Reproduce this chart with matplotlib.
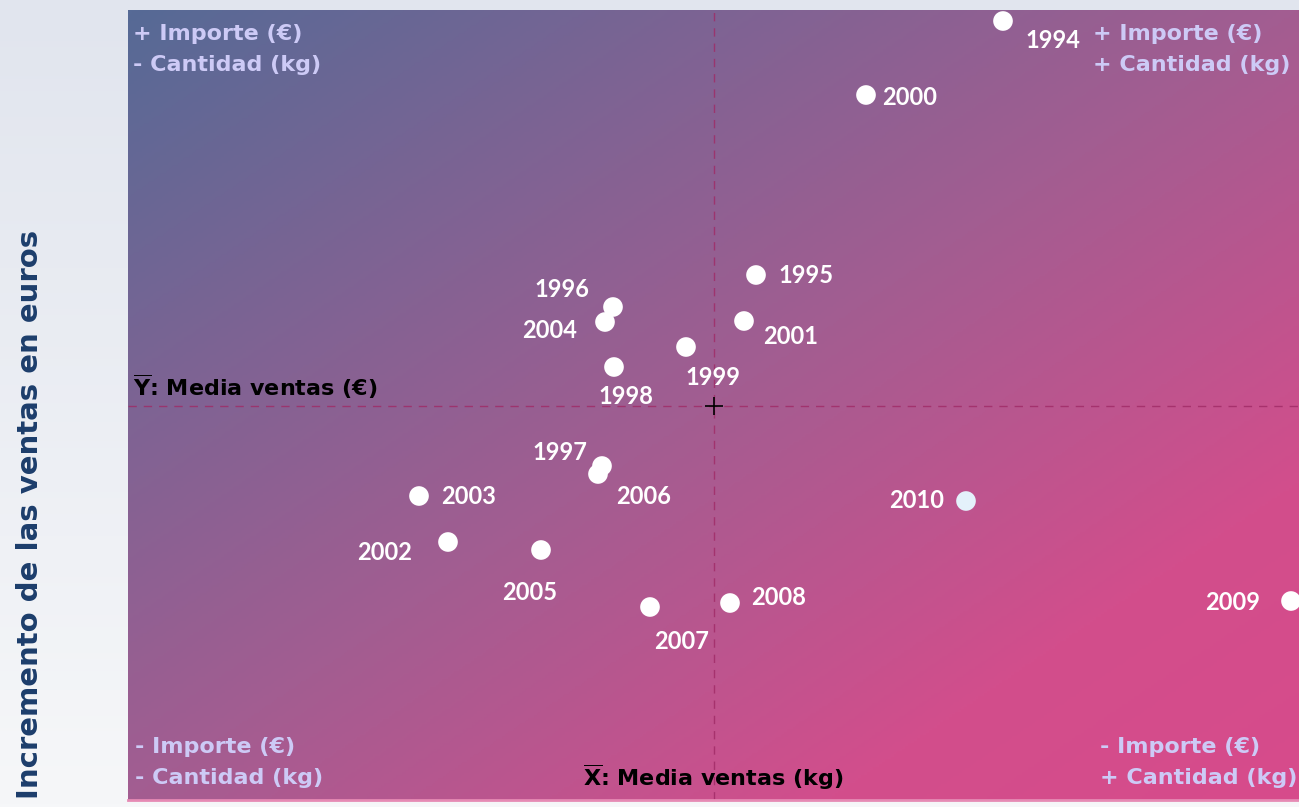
import numpy as np
import matplotlib.pyplot as plt
from matplotlib.colors import LinearSegmentedColormap

plt.rcParams['font.family'] = ['DejaVu Sans']
plt.rcParams['font.weight'] = 'bold'
plt.rcParams['mathtext.fontset'] = 'dejavusans'

# Incremento anual: cantidad (kg) en X, importe (€) en Y
years = ["1994", "1995", "1996", "1997", "1998", "1999", "2000", "2001", "2002",
         "2003", "2004", "2005", "2006", "2007", "2008", "2009", "2010"]
kg = [28.9, 4.2, -10.1, -11.2, -10.0, -2.8, 15.2, 3.0, -26.6,
      -29.5, -10.9, -17.3, -11.6, -6.4, 1.6, 57.7, 25.2]
eur = [38.6, 13.2, 10.0, -5.9, 4.0, 6.0, 31.2, 8.6, -13.5,
       -8.9, 8.5, -14.3, -6.7, -20.0, -19.6, -19.4, -9.4]

quadrants = ["+ Importe (€)\n- Cantidad (kg)", "+ Importe (€)\n+ Cantidad (kg)",
             "- Importe (€)\n- Cantidad (kg)", "- Importe (€)\n+ Cantidad (kg)"]

# desplazamiento de cada etiqueta (px) y alineación
label_pos = {
    "1994": (22, -19, "left"), "2000": (16, -2, "left"), "1995": (22, 0, "left"),
    "2001": (19, -15, "left"), "1996": (-24, 18, "right"), "2004": (-28, -8, "right"),
    "1998": (12, -29, "center"), "1999": (27, -30, "center"), "1997": (-15, 14, "right"),
    "2006": (18, -22, "left"), "2003": (22, 0, "left"), "2002": (-36, -10, "right"),
    "2005": (-11, -42, "center"), "2007": (32, -34, "center"), "2008": (21, 6, "left"),
    "2010": (-22, 1, "right"), "2009": (-31, -1, "right"),
}

xlim = (-58.6, 58.5)
ylim = (-39.3, 39.7)
mean_x = np.mean(kg)
mean_y = np.mean(eur)

fig = plt.figure(figsize=(12.99, 8.07), dpi=100)

# fondo de la figura
bg = fig.add_axes([0, 0, 1, 1], zorder=-1)
bg_cmap = LinearSegmentedColormap.from_list("bg", ["#f6f7f9", "#e1e5ee"])
bg.imshow(np.linspace(0, 1, 256).reshape(-1, 1)[::-1], cmap=bg_cmap, aspect="auto",
          extent=(0, 1, 0, 1))
bg.axis("off")

ax = fig.add_axes([128 / 1299, 7 / 807, 1171 / 1299, 790 / 807])

# degradado diagonal azul -> rosa
grad_cmap = LinearSegmentedColormap.from_list(
    "grad", [(0, "#566a96"), (0.5, "#a35d91"), (0.8, "#d24e8c"), (1, "#d74b8b")])
gx, gy = np.meshgrid(np.linspace(0, 1, 400), np.linspace(0, 1, 300))
ax.imshow((gx + gy) / 2, cmap=grad_cmap, aspect="auto", origin="upper",
          extent=(xlim[0], xlim[1], ylim[0], ylim[1]), zorder=0)

ax.axvline(mean_x, color="#a02a66", lw=1, ls=(0, (6, 5)), alpha=0.8, zorder=1)
ax.axhline(mean_y, color="#a02a66", lw=1, ls=(0, (6, 5)), alpha=0.8, zorder=1)
ax.plot(mean_x, mean_y, marker="+", color="black", ms=13, mew=1.2, zorder=3)

colors = ["#e4f1fb" if y == "2010" else "white" for y in years]
ax.scatter(kg, eur, s=200, c=colors, edgecolors="none", zorder=4)

for y, xv, yv in zip(years, kg, eur):
    dx, dy, ha = label_pos[y]
    ax.annotate(y, (xv, yv), xytext=(dx, dy), textcoords="offset pixels",
                ha=ha, va="center", color="white", fontsize=17, fontweight="bold",
                family=["Lato", "DejaVu Sans"], zorder=5)

qcol = "#cdcaf6"
qkw = dict(transform=ax.transAxes, color=qcol, fontsize=16, fontweight="bold",
           linespacing=1.7, multialignment="left")
ax.text(5 / 1171, 1 - 14 / 790, quadrants[0], ha="left", va="top", **qkw)
ax.text(1 - 9 / 1171, 1 - 14 / 790, quadrants[1], ha="right", va="top", **qkw)
ax.text(7 / 1171, 12 / 790, quadrants[2], ha="left", va="bottom", **qkw)
ax.text(1 - 2 / 1171, 12 / 790, quadrants[3], ha="right", va="bottom", **qkw)

ax.annotate(r"$\mathbf{\overline{Y}}$: Media ventas (€)", (xlim[0], mean_y),
            xytext=(5, 19), textcoords="offset pixels", ha="left", va="center",
            color="black", fontsize=16, fontweight="bold")
ax.annotate(r"$\mathbf{\overline{X}}$: Media ventas (kg)", (mean_x, ylim[0]),
            xytext=(0, 23), textcoords="offset pixels", ha="center", va="center",
            color="black", fontsize=16, fontweight="bold")

ax.set_xlim(xlim)
ax.set_ylim(ylim)
ax.set_xticks([])
ax.set_yticks([])
for side in ["top", "left", "right"]:
    ax.spines[side].set_visible(False)
ax.spines["bottom"].set_color("#e68ab4")
ax.spines["bottom"].set_linewidth(2)

fig.text(30 / 1299, 1 - 514 / 807, "Incremento de las ventas en euros", rotation=90,
         ha="center", va="center", color="#1c3d6b", fontsize=21, fontweight="bold")

fig.savefig("out.png", dpi=100)
